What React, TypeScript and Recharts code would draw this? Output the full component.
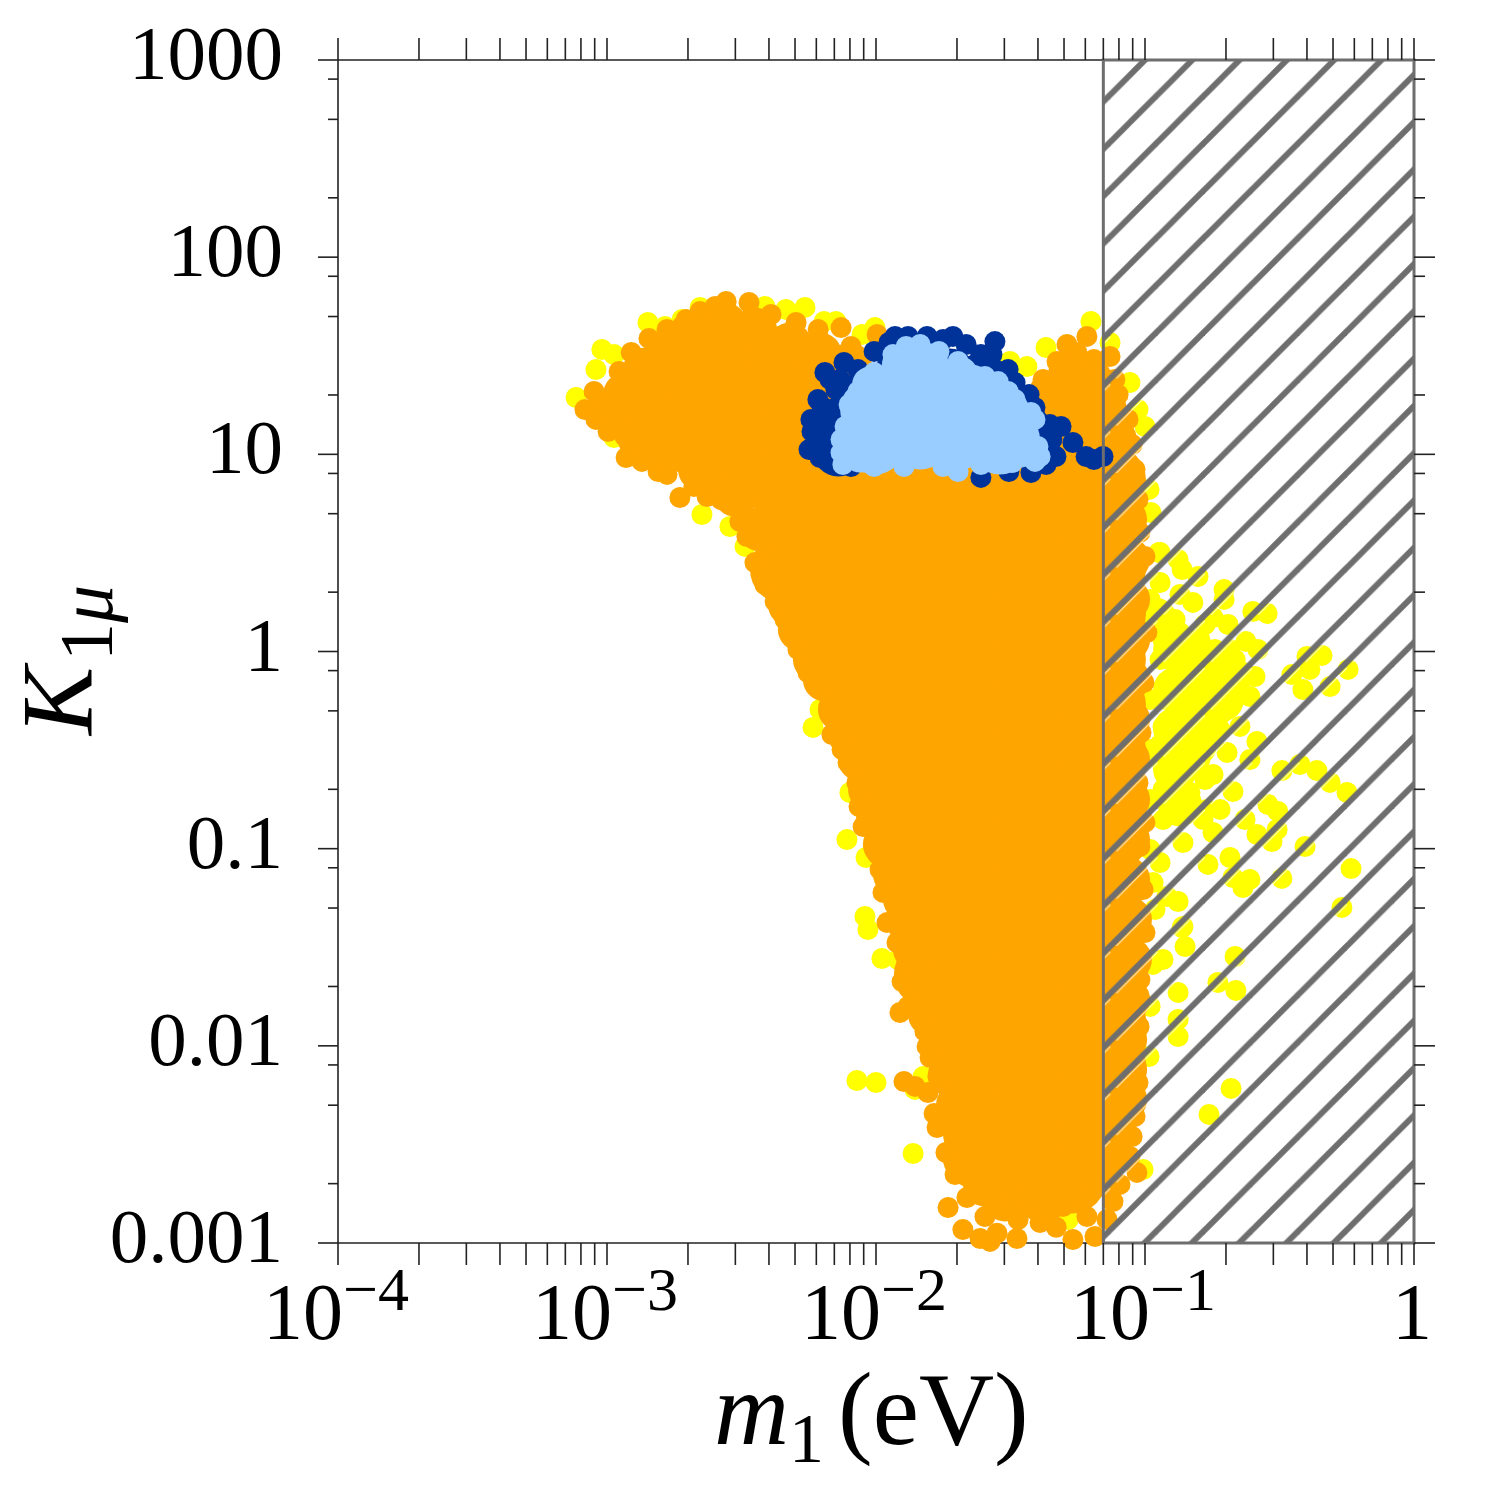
import * as React from 'react';
import { ScatterChart, Scatter, XAxis, YAxis, ReferenceArea } from 'recharts';

// all points are [log10 m1, log10 K]
type Pair = [number, number];

const yellowPoints: Pair[] = [
  [-3.115, 1.288], [-3.041, 1.43], [-3.019, 1.532], [-2.974, 1.506], [-2.848, 1.669], [-2.784, 1.648], [-2.721, 1.684],
  [-2.654, 1.745], [-2.413, 1.75], [-2.335, 1.735], [-2.264, 1.745], [-2.193, 1.674], [-2.149, 1.674], [-2.052, 1.608],
  [-2.004, 1.643], [-1.201, 1.674], [-1.368, 1.542], [-1.502, 1.471], [-1.439, 1.445], [-1.13, 1.567], [-1.056, 1.364],
  [-1.026, 1.227], [-1.0, 1.141], [-0.985, 0.822], [-0.978, 0.705], [-0.948, 0.502], [-2.974, 1.085], [-2.647, 0.695],
  [-2.543, 0.634], [-2.487, 0.533], [-2.234, -0.385], [-2.208, -0.294], [-2.097, -0.715], [-2.108, -0.954], [-2.037, -1.045],
  [-2.041, -1.344], [-2.03, -1.41], [-1.978, -1.557], [-1.918, -1.562], [-2.071, -2.176], [-2.0, -2.186], [-1.862, -2.546],
  [-1.855, -2.221], [-1.825, -2.156], [-1.587, -2.764], [-1.286, -2.881], [-1.167, -2.642], [-1.007, -2.627],
  [-0.762, -2.348], [-0.68, -2.216], [-0.877, -1.729], [-0.877, -1.953], [-0.877, -1.866], [-0.985, -2.054], [-0.981, -1.8],
  [-0.729, -1.679], [-0.662, -1.719], [-0.665, -1.547], [-0.97, -1.587], [-0.933, -1.562], [-0.851, -1.496], [-0.862, -1.4],
  [-0.877, -1.268], [-0.963, -1.309], [-0.918, -1.243], [-0.97, -1.172], [-0.944, 0.502], [-0.877, 0.467], [-0.862, 0.416],
  [-0.803, 0.38], [-0.944, 0.35], [-0.87, 0.289], [-0.822, 0.249], [-0.706, 0.314], [-0.706, 0.264], [-0.599, 0.203],
  [-0.546, 0.193], [-0.747, 0.172], [-0.691, 0.137], [-0.796, 0.061], [-0.87, 0.096], [-0.933, 0.061], [-0.625, 0.051],
  [-0.58, 0.01], [-0.684, 0.01], [-0.732, -0.091], [-0.591, -0.127], [-0.636, -0.107], [-0.61, -0.228], [-0.71, -0.193],
  [-0.647, -0.38], [-0.584, -0.456], [-0.695, -0.512], [-0.61, -0.548], [-0.807, -0.157], [-0.87, -0.279], [-0.933, -0.38],
  [-0.796, -0.345], [-0.71, -0.309], [-0.87, -0.497], [-0.933, -0.583], [-0.807, -0.563], [-0.747, -0.624], [-0.673, -0.71],
  [-0.833, -0.715], [-0.933, -0.7], [-0.888, -0.801], [-0.77, -0.801], [-0.784, -0.852], [-0.859, -0.969], [-0.747, -0.918],
  [-0.944, -1.07], [-0.933, -0.852], [-0.766, -1.08], [-0.684, -1.045], [-0.673, -1.146], [-0.61, -1.156], [-0.636, -1.197],
  [-0.491, -1.151], [-0.628, -0.852], [-0.584, -0.928], [-0.528, -0.964], [-0.509, -0.903], [-0.543, -0.776], [-0.506, -0.811],
  [-0.405, -0.989], [-0.234, -1.101], [-0.268, -1.298], [-0.491, -0.604], [-0.424, -0.573], [-0.361, -0.604], [-0.312, -0.664],
  [-0.249, -0.715], [-0.342, -0.02], [-0.387, -0.091], [-0.454, -0.117], [-0.413, -0.193], [-0.312, -0.178], [-0.245, -0.091],
  [-0.398, -0.025], [-0.859, -1.395], [-0.907, 0.01], [-0.851, -0.041], [-0.907, -0.142], [-0.833, -0.193], [-0.926, -0.243],
  [-0.87, -0.396], [-0.814, -0.446], [-0.907, -0.548], [-0.777, -0.243], [-0.74, -0.193], [-0.777, 0.01], [-0.833, 0.061],
  [-0.944, 0.162], [-0.888, 0.162], [-0.758, -0.446], [-0.721, -0.396], [-0.777, -0.649], [-0.981, 0.264], [-0.981, -0.243],
  [-0.981, -0.497], [-0.981, -0.751], [-0.981, -1.004], [-0.833, -0.091], [-0.888, -0.243], [-0.944, -0.041], [-0.814, -0.345],
  [-0.74, -0.345], [-0.851, -0.624], [-0.944, -0.472], [-0.703, -0.091], [-0.777, 0.137], [-0.647, -0.193], [-0.665, -0.041],
  [-0.74, 0.01], [-0.796, -0.548], [-0.888, -0.7], [-0.814, -0.801], [-0.721, -0.801],
];

// the dense yellow band right of the orange
const yellowBand: Pair[] = [
  [-0.888, 0.01], [-0.888, -0.193], [-0.888, -0.396], [-0.888, -0.598], [-0.796, -0.066], [-0.796, -0.269], [-0.814, -0.472],
  [-0.703, -0.091], [-0.714, -0.243], [-0.87, -0.776], [-0.963, 0.162],
];

// orange bulk: rows of big markers
const orangeCore: Pair[] = [
  [-2.699, 1.481], [-2.52, 1.481], [-2.342, 1.481],
  [-2.877, 1.278], [-2.699, 1.278], [-2.52, 1.278], [-2.342, 1.278], [-2.164, 1.278], [-1.271, 1.278],
  [-2.699, 1.075], [-2.52, 1.075], [-2.342, 1.075], [-2.164, 1.075], [-1.985, 1.075], [-1.271, 1.075],
  [-2.52, 0.872], [-2.342, 0.872], [-2.164, 0.872], [-1.985, 0.872], [-1.807, 0.872], [-1.628, 0.872], [-1.45, 0.872], [-1.271, 0.872], [-1.123, 0.872],
  [-2.342, 0.644], [-2.164, 0.644], [-1.985, 0.644], [-1.807, 0.644], [-1.628, 0.644], [-1.45, 0.644], [-1.271, 0.644], [-1.123, 0.644],
  [-2.342, 0.416], [-2.164, 0.416], [-1.985, 0.416], [-1.807, 0.416], [-1.628, 0.416], [-1.45, 0.416], [-1.271, 0.416], [-1.123, 0.416],
  [-2.164, 0.188], [-1.985, 0.188], [-1.807, 0.188], [-1.628, 0.188], [-1.45, 0.188], [-1.271, 0.188], [-1.123, 0.188],
  [-2.164, -0.041], [-1.985, -0.041], [-1.807, -0.041], [-1.628, -0.041], [-1.45, -0.041], [-1.271, -0.041], [-1.123, -0.041],
  [-1.985, -0.269], [-1.807, -0.269], [-1.628, -0.269], [-1.45, -0.269], [-1.271, -0.269], [-1.123, -0.269],
  [-1.985, -0.497], [-1.807, -0.497], [-1.628, -0.497], [-1.45, -0.497], [-1.271, -0.497], [-1.123, -0.497],
  [-1.807, -0.725], [-1.628, -0.725], [-1.45, -0.725], [-1.271, -0.725], [-1.123, -0.725],
  [-1.807, -0.954], [-1.628, -0.954], [-1.45, -0.954], [-1.271, -0.954], [-1.123, -0.954],
  [-1.807, -1.182], [-1.628, -1.182], [-1.45, -1.182], [-1.271, -1.182], [-1.123, -1.182],
  [-1.807, -1.41], [-1.628, -1.41], [-1.45, -1.41], [-1.271, -1.41], [-1.123, -1.41],
  [-1.807, -1.638], [-1.628, -1.638], [-1.45, -1.638], [-1.271, -1.638], [-1.123, -1.638],
  [-1.628, -1.866], [-1.45, -1.866], [-1.271, -1.866], [-1.123, -1.866],
  [-1.628, -2.095], [-1.45, -2.095], [-1.271, -2.095], [-1.123, -2.095],
  [-1.628, -2.323], [-1.45, -2.323], [-1.271, -2.323],
  [-1.628, -2.551], [-1.45, -2.551], [-1.271, -2.551],
  [-1.45, -2.678], [-1.271, -2.678],
];

// medium markers just inside the edge
const orangeMid: Pair[] = [
  [-2.375, 0.416], [-2.32, 0.238], [-2.283, 0.112], [-2.227, -0.041], [-2.19, -0.142], [-2.134, -0.294], [-2.097, -0.421],
  [-2.059, -0.548], [-2.022, -0.7], [-1.993, -0.827], [-1.967, -0.979], [-1.929, -1.131], [-1.892, -1.258], [-1.874, -1.385],
  [-1.855, -1.511], [-1.818, -1.689], [-1.799, -1.841], [-1.743, -1.968], [-1.725, -2.145], [-1.695, -2.298], [-1.669, -2.45],
  [-1.643, -2.577], [-1.595, -2.703], [-1.52, -2.779], [-1.39, -2.779], [-1.279, -2.729], [-1.167, -2.653], [-1.13, -2.526],
  [-1.112, -2.374], [-1.074, -2.272], [-1.074, -2.12], [-1.074, -1.968], [-1.063, -1.765], [-1.056, -1.562], [-1.056, -1.359],
  [-1.063, -1.156], [-1.063, -0.954], [-1.063, -0.751], [-1.063, -0.548], [-1.063, -0.345], [-1.063, -0.142], [-1.063, 0.061],
  [-1.063, 0.264], [-1.063, 0.467], [-1.074, 0.669], [-1.093, 0.872], [-1.112, 1.075], [-1.149, 1.227], [-1.204, 1.38],
  [-1.279, 1.405], [-1.353, 1.303], [-2.989, 1.227], [-2.933, 1.303], [-2.859, 1.43], [-2.784, 1.506], [-2.691, 1.608],
  [-2.561, 1.658], [-2.45, 1.633], [-2.32, 1.557], [-2.208, 1.506], [-2.097, 1.455], [-2.877, 1.075], [-2.766, 1.024],
  [-2.654, 0.923], [-2.524, 0.796], [-2.431, 0.619], [-1.967, -0.624], [-1.929, -0.751], [-1.892, -0.877], [-1.892, -1.004],
  [-2.078, -0.193], [-2.059, -0.32], [-2.8, 1.2],
];

const orangeEdge: Pair[] = [
  [-3.082, 1.227], [-3.041, 1.177], [-2.996, 1.116], [-3.048, 1.319], [-2.955, 1.42], [-2.91, 1.517], [-2.844, 1.588],
  [-2.777, 1.633], [-2.706, 1.684], [-2.654, 1.725], [-2.598, 1.75], [-2.557, 1.775], [-2.472, 1.77], [-2.39, 1.709],
  [-2.297, 1.669], [-2.215, 1.633], [-2.13, 1.643], [-1.996, 1.608], [-2.093, 1.547], [-2.933, 1.09], [-2.929, 0.984],
  [-2.87, 0.964], [-2.81, 0.913], [-2.777, 0.898], [-2.729, 0.781], [-2.677, 0.837], [-2.628, 0.786], [-2.576, 0.771],
  [-2.506, 0.659], [-2.48, 0.583], [-2.45, 0.451], [-2.413, 0.34], [-2.375, 0.254], [-2.338, 0.162], [-2.29, 0.01],
  [-2.253, -0.107], [-2.216, -0.178], [-2.164, -0.309], [-2.164, -0.421], [-2.126, -0.497], [-2.104, -0.563], [-2.071, -0.664],
  [-2.063, -0.786], [-2.048, -0.888], [-1.993, -1.03], [-1.985, -1.106], [-1.974, -1.222], [-1.959, -1.375], [-1.922, -1.476],
  [-1.836, -1.613], [-1.903, -1.674], [-1.881, -1.8], [-1.911, -1.831], [-1.818, -1.927], [-1.81, -2.003], [-1.799, -2.059],
  [-1.77, -2.156], [-1.896, -2.181], [-1.855, -2.206], [-1.807, -2.237], [-1.784, -2.343], [-1.773, -2.414], [-1.74, -2.541],
  [-1.706, -2.653], [-1.662, -2.769], [-1.732, -2.82], [-1.677, -2.932], [-1.613, -2.977], [-1.576, -2.992], [-1.595, -2.866],
  [-1.565, -2.815], [-1.491, -2.769], [-1.472, -2.881], [-1.476, -2.977], [-1.39, -2.896], [-1.353, -2.845], [-1.305, -2.815],
  [-1.268, -2.982], [-1.216, -2.866], [-1.242, -2.764], [-1.186, -2.967], [-1.141, -2.881], [-1.119, -2.79], [-1.093, -2.703],
  [-1.03, -2.642], [-1.056, -2.561], [-1.048, -2.46], [-1.037, -2.358], [-1.026, -2.186], [-1.022, -1.902], [-1.019, -1.664],
  [-1.0, -1.425], [-1.007, -1.207], [-1.019, -0.989], [-1.0, -0.867], [-1.026, -0.664], [-1.015, -0.411], [-1.004, -0.157],
  [-0.993, 0.096], [-1.037, 0.264], [-1.0, 0.482], [-1.019, 0.604], [-1.026, 0.771], [-1.037, 0.923], [-1.048, 1.05],
  [-1.063, 1.177], [-1.1, 1.303], [-1.216, 1.598], [-1.29, 1.557], [-1.327, 1.471], [-1.379, 1.38], [-1.253, 1.517],
  [-1.19, 1.481], [-1.13, 1.496], [-1.112, 1.38], [-1.55, -2.95], [-1.42, -2.75], [-1.33, -2.92],
];

const darkBlueCore: Pair[] = [
  [-1.911, 1.405], [-1.725, 1.405], [-1.595, 1.303], [-2.059, 1.278], [-2.152, 1.151], [-1.446, 1.126], [-2.14, 1.02],
  [-1.576, 1.354],
];

const darkBluePoints: Pair[] = [
  [-2.19, 1.415], [-2.119, 1.466], [-2.007, 1.522], [-1.929, 1.598], [-1.881, 1.598], [-1.714, 1.598], [-1.665, 1.557],
  [-1.558, 1.572], [-1.61, 1.506], [-1.569, 1.506], [-1.483, 1.364], [-1.431, 1.303], [-1.409, 1.238], [-1.312, 1.141],
  [-1.268, 1.06], [-1.346, 1.075], [-1.331, 0.989], [-1.368, 0.948], [-1.424, 0.908], [-1.506, 0.913], [-1.61, 0.883],
  [-1.219, 0.989], [-1.19, 0.974], [-1.156, 0.989], [-2.208, 0.984], [-2.249, 1.024], [-2.242, 1.177], [-2.201, 1.243],
  [-2.149, 1.329], [-2.149, 0.964], [-2.093, 0.938], [-1.751, 1.582], [-1.81, 1.598], [-1.509, 1.43], [-1.952, 1.567],
  [-2.067, 1.43], [-2.178, 1.09], [-2.208, 1.141], [-1.383, 1.06], [-1.353, 1.151], [-2.19, 1.177], [-2.171, 1.05],
  [-2.134, 1.38], [-2.15, 1.2], [-2.15, 1.1], [-2.238, 1.116], [-2.216, 1.278], [-2.171, 1.38], [-1.632, 1.456],
  [-1.539, 1.405], [-1.483, 1.303], [-1.446, 1.227], [-1.39, 1.151],
];

const lightBluePoints: Pair[] = [
  [-1.836, 1.557], [-1.888, 1.547], [-1.937, 1.506], [-1.766, 1.522], [-1.695, 1.471], [-1.595, 1.395], [-1.546, 1.369],
  [-1.483, 1.278], [-1.424, 1.212], [-1.39, 0.989], [-1.409, 0.964], [-1.695, 0.913], [-2.13, 1.009], [-2.123, 0.948],
  [-2.13, 1.075], [-2.115, 1.141], [-2.1, 1.253], [-2.067, 1.319], [-2.007, 1.415], [-1.439, 1.075], [-1.751, 0.938],
  [-1.896, 0.938], [-2.007, 0.938], [-1.61, 0.948], [-1.494, 0.958], [-1.398, 1.04], [-1.509, 1.319], [-1.409, 1.177],
];

const lightBlueMid: Pair[] = [
  [-1.911, 1.456], [-1.799, 1.471], [-1.688, 1.405], [-1.595, 1.303], [-1.52, 1.177], [-2.022, 1.354], [-2.059, 1.227],
  [-2.059, 1.075], [-2.059, 0.999], [-1.465, 1.024],
];

const lightBlueCore: Pair[] = [
  [-1.948, 1.303], [-1.799, 1.354], [-1.651, 1.303], [-1.539, 1.202], [-1.985, 1.075], [-1.836, 1.075], [-1.688, 1.075],
  [-1.539, 1.05], [-1.836, 1.227], [-1.688, 1.177], [-2.022, 1.227], [-2.004, 1.05], [-1.502, 1.075],
];

const xMajor = [1e-4, 1e-3, 1e-2, 1e-1, 1];
const xMinor = [
  2e-4, 3e-4, 4e-4, 5e-4, 6e-4, 7e-4, 8e-4, 9e-4,
  2e-3, 3e-3, 4e-3, 5e-3, 6e-3, 7e-3, 8e-3, 9e-3,
  2e-2, 3e-2, 4e-2, 5e-2, 6e-2, 7e-2, 8e-2, 9e-2,
  0.2, 0.3, 0.4, 0.5, 0.6, 0.7, 0.8, 0.9,
];
const yMajor = [0.001, 0.01, 0.1, 1, 10, 100, 1000];
const yMinor = [0.002, 0.005, 0.008, 0.02, 0.05, 0.08, 0.2, 0.5, 0.8, 2, 5, 8, 20, 50, 80, 200, 500, 800];
const xExponents: Record<string, string> = { '0.0001': '−4', '0.001': '−3', '0.01': '−2', '0.1': '−1' };

const toRows = (pairs: Pair[]) => pairs.map(([a, b]) => ({ m: Math.pow(10, a), k: Math.pow(10, b) }));

const FONT = '"Liberation Serif", serif';
const LINE = '#222';
const HATCH = '#6e6e6e';

const dot = (r: number, fill: string) => (p: any) => <circle cx={p.cx} cy={p.cy} r={r} fill={fill} />;

const isIn = (list: number[], v: number) => list.some((t) => Math.abs(t / v - 1) < 1e-6);

const BottomTick = (p: any) => {
  const v = p.payload.value;
  const exp = xExponents[String(v)];
  return (
    <g>
      <line x1={p.x} x2={p.x} y1={p.y} y2={p.y + 22} stroke={LINE} strokeWidth={1.6} />
      {isIn(xMajor, v) && (
        <text x={v === 1 ? p.x - 2 : p.x - 2} y={1339} textAnchor="middle" fontFamily={FONT} fontSize={80} fill="#000">
          {exp ? <tspan>10</tspan> : '1'}
          {exp && <tspan dy={-29} fontSize={62}>{exp}</tspan>}
        </text>
      )}
    </g>
  );
};

const TopTick = (p: any) => <line x1={p.x} x2={p.x} y1={p.y} y2={p.y - 22} stroke={LINE} strokeWidth={1.6} />;

const LeftTick = (p: any) => {
  const v = p.payload.value;
  const major = isIn(yMajor, v);
  return (
    <g>
      <line x1={p.x} x2={p.x - (major ? 20 : 10)} y1={p.y} y2={p.y} stroke={LINE} strokeWidth={1.6} />
      {major && (
        <text x={283} y={p.y + 19} textAnchor="end" fontFamily={FONT} fontSize={77} fill="#000">
          {v}
        </text>
      )}
    </g>
  );
};

const RightTick = (p: any) => {
  const major = isIn(yMajor, p.payload.value);
  return <line x1={p.x} x2={p.x + (major ? 21 : 11)} y1={p.y} y2={p.y} stroke={LINE} strokeWidth={1.6} />;
};

export default function App() {
  const xTicks = [...xMajor, ...xMinor].sort((a, b) => a - b);
  const yTicks = [...yMajor, ...yMinor].sort((a, b) => a - b);
  const xDomain = [1e-4, 1];
  const yDomain = [0.001, 1000];
  return (
    <div style={{ position: 'absolute', left: 0, top: 0, width: 1500, height: 1500, background: '#fff' }}>
      <ScatterChart width={1500} height={1500} margin={{ top: 59, right: 85, bottom: 256, left: 337 }}>
        <defs>
          <pattern id="hatch" patternUnits="userSpaceOnUse" width={47.3} height={47.3} patternTransform="translate(22.5 0)">
            <line x1={3} y1={47.3 + 3} x2={47.3 + 3} y2={3} stroke="#fff" strokeWidth={1} opacity={0.8} />
            <line x1={0} y1={47.3} x2={47.3} y2={0} stroke={HATCH} strokeWidth={6} />
            <line x1={-5} y1={5} x2={5} y2={-5} stroke={HATCH} strokeWidth={6} />
            <line x1={42.3} y1={52.3} x2={52.3} y2={42.3} stroke={HATCH} strokeWidth={6} />
          </pattern>
        </defs>
        <XAxis dataKey="m" type="number" scale="log" domain={xDomain} ticks={xTicks} interval={0} height={1} tickSize={0} tickMargin={0} tickLine={false} stroke={LINE} strokeWidth={1.6} tick={BottomTick} />
        <XAxis xAxisId="top" orientation="top" dataKey="m" type="number" scale="log" domain={xDomain} ticks={xTicks} interval={0} height={1} tickSize={0} tickMargin={0} tickLine={false} stroke={LINE} strokeWidth={1.6} tick={TopTick} />
        <YAxis dataKey="k" type="number" scale="log" domain={yDomain} ticks={yTicks} interval={0} width={1} tickSize={0} tickMargin={0} tickLine={false} stroke={LINE} strokeWidth={1.6} tick={LeftTick} />
        <YAxis yAxisId="right" orientation="right" dataKey="k" type="number" scale="log" domain={yDomain} ticks={yTicks} interval={0} width={1} tickSize={0} tickMargin={0} tickLine={false} stroke={HATCH} strokeWidth={1.6} tick={RightTick} />
        <Scatter xAxisId="top" yAxisId="right" data={toRows(yellowPoints)} shape={dot(10.5, '#ffff00')} isAnimationActive={false} />
        <Scatter data={toRows(yellowBand)} shape={dot(22, '#ffff00')} isAnimationActive={false} />
        <Scatter data={toRows(orangeCore)} shape={dot(34, '#ffa500')} isAnimationActive={false} />
        <Scatter data={toRows(orangeMid)} shape={dot(22, '#ffa500')} isAnimationActive={false} />
        <Scatter data={toRows(orangeEdge)} shape={dot(10.5, '#ffa500')} isAnimationActive={false} />
        <Scatter data={toRows(darkBlueCore)} shape={dot(26, '#003399')} isAnimationActive={false} />
        <Scatter data={toRows(darkBluePoints)} shape={dot(10.5, '#003399')} isAnimationActive={false} />
        <Scatter data={toRows(lightBluePoints)} shape={dot(10.5, '#99ccff')} isAnimationActive={false} />
        <Scatter data={toRows(lightBlueMid)} shape={dot(18, '#99ccff')} isAnimationActive={false} />
        <Scatter data={toRows(lightBlueCore)} shape={dot(30, '#99ccff')} isAnimationActive={false} />
        <ReferenceArea x1={0.07} x2={1} y1={0.001} y2={1000} fill="url(#hatch)" fillOpacity={1} stroke={HATCH} strokeWidth={3} zIndex={1000} />
        <text x={714} y={1444} fontFamily={FONT} fontSize={104} fill="#000">
          <tspan fontStyle="italic">m</tspan>
          <tspan fontSize={70} dy={18}>1</tspan>
          <tspan dy={-18} dx={14}>(eV)</tspan>
        </text>
        <text transform="translate(92 735) rotate(-90)" fontFamily={FONT} fontSize={102} fill="#000">
          <tspan fontStyle="italic">K</tspan>
          <tspan fontSize={76} dy={20} dx={6}>1</tspan>
          <tspan fontSize={76} fontStyle="italic">μ</tspan>
        </text>
      </ScatterChart>
    </div>
  );
}
